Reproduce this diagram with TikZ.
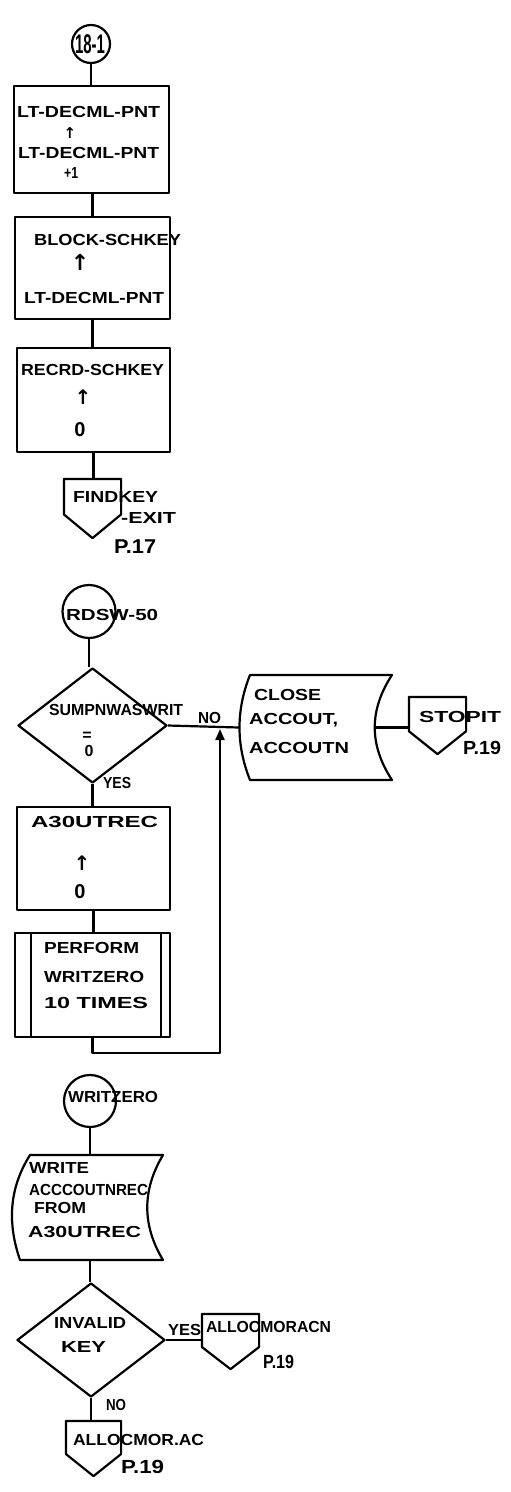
\documentclass[tikz,border=0pt]{standalone}
\usepackage{fontspec}
\setmainfont{Liberation Sans}
\newfontfamily\arrfont{DejaVu Sans}
\usetikzlibrary{shapes.geometric,calc,arrows.meta}
\newcommand\fitw[2]{\resizebox{#1pt}{\height}{#2}}
\newcommand\offpg[1]{\draw (#1.north west) -- (#1.north east) -- ($(#1.south east)!0.4!(#1.north east)$) -- (#1.south) -- ($(#1.south west)!0.4!(#1.north west)$) -- cycle;}
\begin{document}
\begin{tikzpicture}[x=1pt,y=-1pt,line width=2.2pt,line join=round,
  hw/.style={inner sep=0,anchor=west,font=\bfseries\fontsize{16}{18}\selectfont},
  hc/.style={inner sep=0,font=\bfseries\fontsize{20}{20}\selectfont},
  upar/.style={inner sep=0,font=\arrfont\bfseries\fontsize{#1}{#1}\selectfont},
  procbox/.style={draw,rectangle,inner sep=0},
  conn/.style={draw,circle,inner sep=0},
  dec/.style={draw,diamond,inner sep=0},
  ghost/.style={rectangle,inner sep=0}]
\useasboundingbox (0,0) rectangle (511,1492);

% ---------- first part ----------
\node[conn,minimum size=38] (c1) at (91,44) {};
\node[inner sep=0,font=\bfseries\fontsize{27}{27}\selectfont] (c1t) at (90,44) {\fitw{30}{18-1}};

\node[procbox,minimum width=155,minimum height=107] (b1) at (91.5,139.5) {};
\node[hw] (b1a) at (16,112) {\fitw{143}{LT-DECML-PNT}};
\node[upar=15] (b1r) at (70,133) {↑};
\node[hw] (b1b) at (17,153) {\fitw{141}{LT-DECML-PNT}};
\node[hw] (b1c) at (63,173) {\fitw{14}{+1}};

\node[procbox,minimum width=155,minimum height=102] (b2) at (92.5,268) {};
\node[hw] (b2a) at (33,240) {\fitw{147}{BLOCK-SCHKEY}};
\node[upar=22] (b2r) at (80,262) {↑};
\node[hw] (b2b) at (23,298) {\fitw{140}{LT-DECML-PNT}};

\node[procbox,minimum width=153,minimum height=104] (b3) at (93.5,400) {};
\node[hw] (b3a) at (20,370) {\fitw{143}{RECRD-SCHKEY}};
\node[upar=20] (b3r) at (83,397) {↑};
\node[hc] (b3b) at (80,430) {0};

\node[ghost,minimum width=55,minimum height=57] (fk) at (92.5,508.5) {};
\offpg{fk}
\node[hw] (fka) at (72,497) {\fitw{85}{FINDKEY}};
\node[hw] (fkb) at (120,518) {\fitw{55}{-EXIT}};
\node[hw,font=\bfseries\fontsize{20}{20}\selectfont] (fkc) at (113,547) {\fitw{42}{P.17}};

\draw (c1.south) -- (c1.south |- b1.north);
\draw (b1.south -| b2.north) -- (b2.north);
\draw (b2.south) -- (b2.south |- b3.north);
\draw (b3.south) -- (b3.south |- fk.north);

% ---------- second part ----------
\node[conn,minimum size=53] (c2) at (89,611.5) {};
\node[hw] (c2t) at (65,615) {\fitw{92}{RDSW-50}};

\node[dec,minimum width=149,minimum height=115] (d1) at (92.5,725.5) {};
\node[hw] (d1a) at (48,710) {\fitw{134}{SUMPNWASWRIT}};
\node[hc,font=\bfseries\fontsize{16}{16}\selectfont] (d1b) at (87,736) {=};
\node[hc,font=\bfseries\fontsize{16}{16}\selectfont] (d1c) at (89,751) {0};
\node[hw] (d1y) at (102,783) {\fitw{28}{YES}};
\node[hw] (d1n) at (197,718) {\fitw{23}{NO}};

\node[ghost,minimum width=135,minimum height=105] (cl) at (307.5,727.5) {};
\draw (250,675) -- (392,675) .. controls (369,710) and (369,745) .. (392,780) -- (250,780) .. controls (236,745) and (236,710) .. (250,675) -- cycle;
\node[hw] (cla) at (253,695) {\fitw{67}{CLOSE}};
\node[hw] (clb) at (248,720) {\fitw{89}{ACCOUT,}};
\node[hw] (clc) at (248,748) {\fitw{100}{ACCOUTN}};

\node[ghost,minimum width=55,minimum height=55] (st) at (437.5,725.5) {};
\offpg{st}
\node[hw] (sta) at (418,717) {\fitw{82}{STOPIT}};
\node[hw,font=\bfseries\fontsize{19}{19}\selectfont] (stb) at (462,748) {\fitw{38}{P.19}};

\node[procbox,minimum width=153,minimum height=103] (b4) at (93.5,858.5) {};
\node[hw] (b4a) at (30,822) {\fitw{127}{A30UTREC}};
\node[upar=20] (b4r) at (82,863) {↑};
\node[hc] (b4b) at (80,892) {0};

\node[procbox,minimum width=155,minimum height=104] (pf) at (92.5,985) {};
\draw ([xshift=17]pf.north west) -- ([xshift=17]pf.south west);
\draw ([xshift=-10]pf.north east) -- ([xshift=-10]pf.south east);
\node[hw] (pfa) at (43,948) {\fitw{95}{PERFORM}};
\node[hw] (pfb) at (43,977) {\fitw{100}{WRITZERO}};
\node[hw] (pfc) at (43,1003) {\fitw{104}{10 TIMES}};

\coordinate (lp) at (220,1053);
\coordinate (jn) at (220,729);

\draw (c2.south) -- (c2.south |- d1.north);
\draw (d1.east) -- (cl.west);
\draw (cl.east) -- (cl.east -| st.west);
\draw (d1.south) -- (d1.south |- b4.north);
\draw (b4.south) -- (b4.south |- pf.north);
\draw[-{Triangle[length=11pt,width=9pt]}] (pf.south) |- (lp) -- (jn);

% ---------- third part ----------
\node[conn,minimum size=52] (c3) at (90,1101) {};
\node[hw] (c3t) at (67,1097) {\fitw{90}{WRITZERO}};

\node[ghost,minimum width=134,minimum height=105] (wr) at (80,1207.5) {};
\draw (30,1155) -- (163,1155) .. controls (142,1190) and (142,1225) .. (163,1260) -- (20,1260) .. controls (8,1225) and (8,1190) .. (30,1155) -- cycle;
\node[hw] (wra) at (28,1168) {\fitw{60}{WRITE}};
\node[hw] (wrb) at (28,1190) {\fitw{119}{ACCCOUTNREC}};
\node[hw] (wrc) at (33,1208) {\fitw{52}{FROM}};
\node[hw] (wrd) at (27,1232) {\fitw{113}{A30UTREC}};

\node[dec,minimum width=148,minimum height=114] (d2) at (91,1340) {};
\node[hw] (d2a) at (53,1323) {\fitw{72}{INVALID}};
\node[hw] (d2b) at (60,1347) {\fitw{45}{KEY}};
\node[hw] (d2y) at (167,1330) {\fitw{33}{YES}};
\node[hw] (d2n) at (105,1405) {\fitw{20}{NO}};

\node[ghost,minimum width=55,minimum height=53] (m1) at (230.5,1341.5) {};
\offpg{m1}
\node[hw] (m1a) at (205,1327) {\fitw{125}{ALLOCMORACN}};
\node[hw,font=\bfseries\fontsize{19}{19}\selectfont] (m1b) at (262,1362) {\fitw{31}{P.19}};

\node[ghost,minimum width=53,minimum height=53] (m2) at (93.5,1448.5) {};
\offpg{m2}
\node[hw] (m2a) at (72,1440) {\fitw{131}{ALLOCMOR.AC}};
\node[hw,font=\bfseries\fontsize{19}{19}\selectfont] (m2b) at (120,1467) {\fitw{43}{P.19}};

\draw (c3.south) -- (c3.south |- wr.north);
\draw (c3.south |- wr.south) -- (c3.south |- d2.north);
\draw (d2.east) -- (d2.east -| m1.west);
\draw (d2.south) -- (d2.south |- m2.north);
\end{tikzpicture}
\end{document}
